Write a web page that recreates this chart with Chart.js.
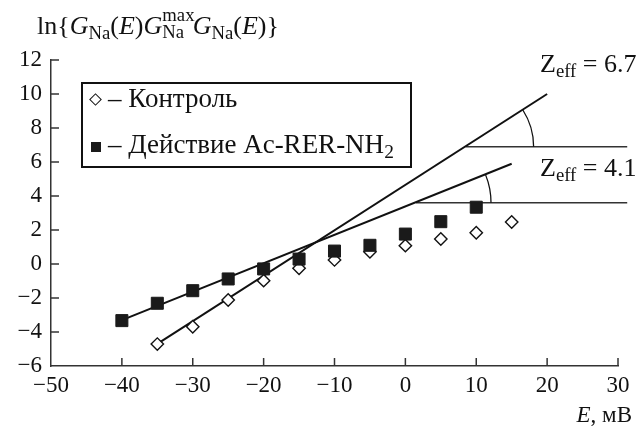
<!DOCTYPE html>
<html>
<head>
<meta charset="utf-8">
<script src="https://cdn.jsdelivr.net/npm/chart.js@4"></script>
<style>
body { margin: 0; background: #fff; }
#wrap { position: relative; width: 641px; height: 427px; font-family: "Liberation Serif", serif; color: #111; }
.t { position: absolute; white-space: nowrap; line-height: 1; }
.sub { font-size: 0.72em; position: relative; top: 0.28em; }
.stack { display: inline-block; position: relative; width: 1.62em; height: 1em; vertical-align: baseline; font-size: 0.72em; }
.stack .up { position: absolute; left: 0; top: -0.5em; }
.stack .dn { position: absolute; left: 0; top: 0.42em; }
#legend { position: absolute; left: 81px; top: 82px; width: 331px; height: 86px; box-sizing: border-box; border: 2.5px solid #111; }
.dia { position: absolute; width: 7px; height: 7px; border: 1.4px solid #111; background: #fff; transform: rotate(45deg); }
.sq { position: absolute; width: 10px; height: 10px; background: #1a1a1a; }
</style>
</head>
<body>
<div id="wrap">
  <canvas id="grafik" width="641" height="427"></canvas>

  <div class="t" style="left:37px;top:13px;font-size:26px">ln{<i>G</i><span class="sub">Na</span>(<i>E</i>)<i>G</i><span class="stack"><span class="up">max</span><span class="dn">Na</span></span><i>G</i><span class="sub">Na</span>(<i>E</i>)}</div>

  <div id="legend"></div>
  <div class="dia" style="left:91px;top:95px"></div>
  <div class="t" style="left:108px;top:85px;font-size:27px">– Контроль</div>
  <div class="sq" style="left:91px;top:142px"></div>
  <div class="t" style="left:108px;top:131px;font-size:27px">– Действие Ac-RER-NH<span class="sub">2</span></div>

  <div class="t" style="left:540px;top:51px;font-size:26px">Z<span class="sub">eff</span> = 6.7</div>
  <div class="t" style="left:540px;top:155px;font-size:26px">Z<span class="sub">eff</span> = 4.1</div>

  <div class="t" style="right:9px;top:403px;font-size:23px"><i>E</i>, мВ</div>
</div>

<script>
// потенциал, мВ
const voltage = [-40, -35, -30, -25, -20, -15, -10, -5, 0, 5, 10, 15];
// контроль (ромбы)
const control = [null, -4.71, -3.69, -2.12, -0.98, -0.25, 0.24, 0.72, 1.08, 1.47, 1.84, 2.47];
// действие Ac-RER-NH2 (квадраты)
const action = [-3.33, -2.31, -1.57, -0.88, -0.29, 0.29, 0.76, 1.10, 1.76, 2.49, 3.34, null];

// прямые аппроксимации: Zeff = 6.7 и Zeff = 4.1
const fitSteepX = [-35, 20], fitSteepY = [-4.7, 10];
const fitFlatX = [-40, 15], fitFlatY = [-3.3, 5.9];

// горизонтальные линии для углов
const hLineY = [6.9, 3.6];
const hLineStart = [8.5, 1.5];
const hLineEnd = 31.3;

const xTicks = [-50, -40, -30, -20, -10, 0, 10, 20, 30];
const yTicks = [-6, -4, -2, 0, 2, 4, 6, 8, 10, 12];

const pts = (xs, ys) => xs.map((x, i) => ({ x, y: ys[i] })).filter(p => p.y !== null);
const minus = v => String(v).replace('-', '\u2212');

const serif = '"Liberation Serif", serif';

// засечки внутрь и дуги углов
const extras = {
  id: 'extras',
  afterDatasetsDraw(c) {
    const { ctx, scales: { x, y } } = c;
    ctx.save();
    ctx.strokeStyle = '#333';
    ctx.lineWidth = 1.5;
    xTicks.slice(1).forEach(v => {
      const px = x.getPixelForValue(v);
      ctx.beginPath(); ctx.moveTo(px, y.bottom); ctx.lineTo(px, y.bottom - 8); ctx.stroke();
    });
    yTicks.slice(1).forEach(v => {
      const py = y.getPixelForValue(v);
      ctx.beginPath(); ctx.moveTo(x.left, py); ctx.lineTo(x.left + 8, py); ctx.stroke();
    });

    // дуги
    const lines = [[fitSteepX, fitSteepY, 68], [fitFlatX, fitFlatY, 75]];
    ctx.strokeStyle = '#111';
    ctx.lineWidth = 1.3;
    lines.forEach(([xs, ys, r], i) => {
      const dx = x.getPixelForValue(xs[1]) - x.getPixelForValue(xs[0]);
      const dy = y.getPixelForValue(ys[1]) - y.getPixelForValue(ys[0]);
      const ang = Math.atan2(dy, dx);
      const cx = x.getPixelForValue(hLineStart[i]), cy = y.getPixelForValue(hLineY[i]);
      ctx.beginPath(); ctx.arc(cx, cy, r, ang, 0); ctx.stroke();
    });
    ctx.restore();
  }
};

const lineDs = (data, color, width) => ({
  data, showLine: true, pointRadius: 0, borderColor: color, borderWidth: width, clip: false, order: 3
});

new Chart(grafik, {
  type: 'scatter',
  data: {
    datasets: [
      { data: pts(voltage, action), pointStyle: 'rect', pointRadius: 8.5, backgroundColor: '#1a1a1a', borderColor: '#1a1a1a', borderWidth: 1, order: 0 },
      { data: pts(voltage, control), pointStyle: 'rectRot', pointRadius: 6.2, backgroundColor: '#fff', borderColor: '#111', borderWidth: 1.4, order: 1 },
      lineDs(pts(fitSteepX, fitSteepY), '#111', 2),
      lineDs(pts(fitFlatX, fitFlatY), '#111', 2),
      lineDs([{ x: hLineStart[0], y: hLineY[0] }, { x: hLineEnd, y: hLineY[0] }], '#333', 1.6),
      lineDs([{ x: hLineStart[1], y: hLineY[1] }, { x: hLineEnd, y: hLineY[1] }], '#333', 1.6)
    ]
  },
  options: {
    responsive: false, animation: false, devicePixelRatio: 1,
    layout: { padding: { left: 0, top: 60, right: 23, bottom: 0 } },
    plugins: { legend: { display: false }, tooltip: { enabled: false } },
    scales: {
      x: {
        type: 'linear', min: -50, max: 30,
        afterBuildTicks: s => { s.ticks = xTicks.map(value => ({ value })); },
        afterFit: s => { s.height = 61; },
        grid: { display: false, drawTicks: false },
        border: { color: '#333', width: 1.5 },
        ticks: { color: '#111', font: { family: serif, size: 23 }, padding: 6, callback: minus, maxRotation: 0 }
      },
      y: {
        min: -6, max: 12,
        afterBuildTicks: s => { s.ticks = yTicks.map(value => ({ value })); },
        afterFit: s => { s.width = 51; },
        grid: { display: false, drawTicks: false },
        border: { color: '#333', width: 1.5 },
        ticks: { color: '#111', font: { family: serif, size: 23 }, padding: 9, callback: minus }
      }
    }
  },
  plugins: [extras]
});
</script>
</body>
</html>
